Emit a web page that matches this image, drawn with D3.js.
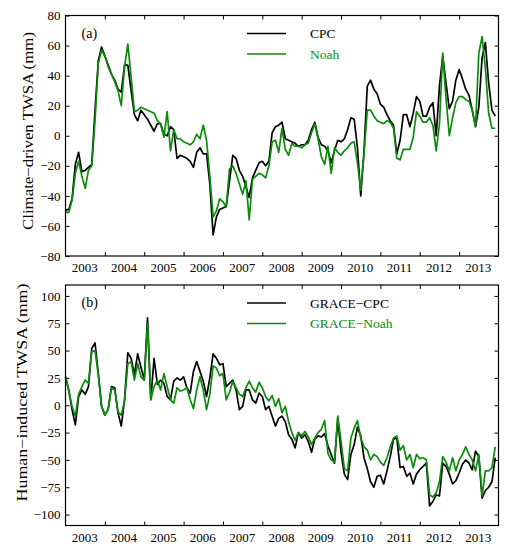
<!DOCTYPE html>
<html>
<head>
<meta charset="utf-8">
<script src="https://cdnjs.cloudflare.com/ajax/libs/d3/7.8.5/d3.min.js"></script>
<style>
body { margin: 0; background: #fff; }
text { font-family: "Liberation Serif", "DejaVu Serif", serif; }
</style>
</head>
<body>
<script>
// monthly values, Jan 2003 - Dec 2013 (mm)
const cpc = [
    -49.5, -49, -42, -19, -11, -24, -23, -21, -19, 17, 50, 59,
    53, 47, 41, 37, 31, 29, 47, 47, 30, 14, 10, 17,
    14, 11, 7, 3, 8, 8, 1, 0, 6, 4, -15, -13,
    -14, -15, -17, -21, -11, -8, -12, -12, -32, -66, -54, -49,
    -48, -47, -30, -13, -15, -23, -27, -34, -41, -28, -23, -18,
    -17, -20, -17, 2, 6, 7, 9, -2, -3, -4, -5, -7,
    -6, -6, -3, 4, 9, -1, -6, -7, -10, -18, -10, -3,
    -4, -2, 4, 12, 11, -8, -40, -10, 33, 37, 31, 28,
    21, 19, 14, 10, 7, -12, -3, 14, 14, 6, 15, 26,
    23, 13, 13, 19, 22, 0, 33, 53, 35, 18, 23, 37,
    44, 38, 31, 27, 17, 6, 19, 52, 62, 35, 17, 13
];
const noah = [
    -51, -51, -43, -25, -17, -27, -35, -23, -20, 10, 48, 57,
    53, 46, 41, 36, 30, 20, 46, 61, 39, 16, 17, 19,
    18, 17, 16, 15, 10, 8, -1, 16, -10, 4, -2, -2,
    -4, -5, -6, -4, 1, -2, 7, -3, -27, -54, -50, -42,
    -44, -47, -22, -20, -25, -32, -39, -30, -56, -29, -27, -25,
    -26, -28, -20, -4, -3, -11, 5, -9, -13, -5, -7, -7,
    -8, -6, -5, 2, 8, -2, -14, -19, -7, -25, -8, -11,
    -13, -10, -8, -5, -4, -18, -36, -12, 17, 17, 13, 10,
    9, 8, 10, 9, 5, -15, -16, -9, -9, -9, -1, 16,
    13, 9, 9, 12, 7, -10, 8, 55, 25, 0, 12, 22,
    26, 26, 24, 23, 17, 6, 55, 66, 45, 15, 5, 5
];
const graceCpc = [
    26, 14, -4, -18, 8, 14, 10, 17, 52, 57, 29, -1,
    -9, -4, 17, 16, -7, -19, 5, 48, 43, 28, 47, 35,
    23, 80, 5, 43, 19, 23, 20, 8, 5, 22, 25, 23,
    26, 16, 11, 31, 40, 31, 22, 8, 25, 47, 43, 37,
    38, 17, 20, 23, 14, -4, -1, 14, 14, 5, 2, 11,
    8, -4, -1, -10, -19, -12, -10, -15, -27, -31, -39, -25,
    -30, -27, -33, -43, -31, -28, -29, -26, -37, -45, -53, -12,
    -43, -63, -68, -45, -36, -20, -28, -48, -58, -70, -75, -65,
    -64, -72, -60, -47, -31, -30, -57, -56, -65, -62, -72, -63,
    -59, -56, -53, -92, -88, -82, -83, -53, -56, -63, -72, -69,
    -62, -54, -50, -53, -59, -42, -47, -85, -78, -75, -70, -48
];
const graceNoah = [
    26, 13, -1, -10, 10, 17, 23, 20, 49, 50, 28, -1,
    -9, -4, 16, 14, -6, -9, 4, 38, 40, 23, 38, 26,
    23, 75, 5, 17, 23, 14, 29, 17, 5, 2, 16, 13,
    14, 16, 5, -3, 14, 26, 14, -4, 10, 36, 34, 27,
    29, 5, 12, 22, 16, 10, 8, 16, 22, 16, 12, 21,
    16, 8, 4, 9, -1, 6, -7, -1, -15, -25, -32, -25,
    -28, -24, -29, -36, -30, -25, -22, -14, -44, -50, -52, -10,
    -33, -58, -60, -30, -21, -14, -30, -38, -41, -50, -45, -47,
    -52, -55, -48, -38, -30, -28, -41, -37, -50, -45, -57, -45,
    -49, -48, -50, -82, -84, -80, -70, -47, -52, -60, -48, -60,
    -50, -45, -38, -45, -50, -60, -45, -83, -60, -60, -57, -38
];

const years = [2003, 2004, 2005, 2006, 2007, 2008, 2009, 2010, 2011, 2012, 2013];
const topTicks = [-80, -60, -40, -20, 0, 20, 40, 60, 80];
const bottomTicks = [-100, -75, -50, -25, 0, 25, 50, 75, 100];

const months = d3.range(cpc.length).map(i => 2003 + i / 12);

const width = 511, height = 550;
const left = 65.5, right = 498.5;
const black = "#000", green = "#0a8c0a";

const svg = d3.select("body").append("svg")
    .attr("width", width)
    .attr("height", height);

const x = d3.scaleLinear().domain([2003, 2014]).range([left, right]);

function drawPanel(p) {
    const y = d3.scaleLinear().domain(p.domain).range([p.bottom, p.top]);
    const g = svg.append("g");

    // inward ticks on all four sides
    const yl = g.append("g").attr("transform", `translate(${left},0)`)
        .call(d3.axisLeft(y).tickValues(p.ticks).tickSize(-4).tickPadding(5)
            .tickFormat(d => d < 0 ? "\u2212" + Math.abs(d) : d));
    const yr = g.append("g").attr("transform", `translate(${right},0)`)
        .call(d3.axisRight(y).tickValues(p.ticks).tickSize(-4).tickFormat(""));
    const xt = g.append("g").attr("transform", `translate(0,${p.top})`)
        .call(d3.axisTop(x).tickValues(years.slice(1)).tickSize(-4).tickFormat(""));
    const xb = g.append("g").attr("transform", `translate(0,${p.bottom})`)
        .call(d3.axisBottom(x).tickValues(years.slice(1)).tickSize(-4).tickFormat(""));
    const xl = g.append("g").attr("transform", `translate(-1,${p.bottom})`)
        .call(d3.axisBottom(x).tickValues(years.map(d => d + 0.5)).tickSize(0).tickPadding(7)
            .tickFormat(d => Math.floor(d)));

    [yl, yr, xt, xb, xl].forEach(a => {
        a.select(".domain").remove();
        a.selectAll("line").attr("stroke", "#000").attr("stroke-width", 1);
        a.selectAll("text").attr("fill", "#000")
            .style("font-family", '"Liberation Serif", serif').style("font-size", "13px");
    });

    const line = d3.line()
        .x((d, i) => x(months[i]))
        .y(d => y(d));

    g.append("path").datum(p.series[0])
        .attr("fill", "none").attr("stroke", black).attr("stroke-width", 1.7)
        .attr("stroke-linejoin", "round").attr("d", line);
    g.append("path").datum(p.series[1])
        .attr("fill", "none").attr("stroke", green).attr("stroke-width", 1.7)
        .attr("stroke-linejoin", "round").attr("d", line);

    g.append("rect")
        .attr("x", left).attr("y", p.top)
        .attr("width", right - left).attr("height", p.bottom - p.top)
        .attr("fill", "none").attr("stroke", "#000").attr("stroke-width", 1.2);

    g.append("text").attr("x", 81.5).attr("y", p.top + 22)
        .style("font-size", "14px").text(p.label);

    // legend
    p.names.forEach((name, i) => {
        const ly = p.top + 18 + i * 20.5;
        const col = i === 0 ? black : green;
        g.append("line").attr("x1", 247).attr("x2", 286).attr("y1", ly).attr("y2", ly)
            .attr("stroke", col).attr("stroke-width", 1.7);
        g.append("text").attr("x", 310).attr("y", ly + 4.5)
            .attr("fill", col).style("font-size", "13.5px").text(name);
    });

    g.append("text")
        .attr("transform", `translate(${p.titleX},${p.titleY}) scale(0.82,1) rotate(-90)`)
        .attr("text-anchor", "middle")
        .attr("textLength", p.titleLen).attr("lengthAdjust", "spacingAndGlyphs")
        .style("font-size", "17px")
        .text(p.title);
}

drawPanel({
    top: 15.5, bottom: 256, domain: [-80, 80], ticks: topTicks,
    series: [cpc, noah], names: ["CPC", "Noah"], label: "(a)",
    title: "Climate\u2212driven TWSA (mm)", titleX: 33, titleY: 131, titleLen: 198
});

drawPanel({
    top: 285, bottom: 525.5, domain: [-110, 110], ticks: bottomTicks,
    series: [graceCpc, graceNoah], names: ["GRACE\u2212CPC", "GRACE\u2212Noah"], label: "(b)",
    title: "Human\u2212induced TWSA (mm)", titleX: 27, titleY: 392.5, titleLen: 218
});
</script>
</body>
</html>
